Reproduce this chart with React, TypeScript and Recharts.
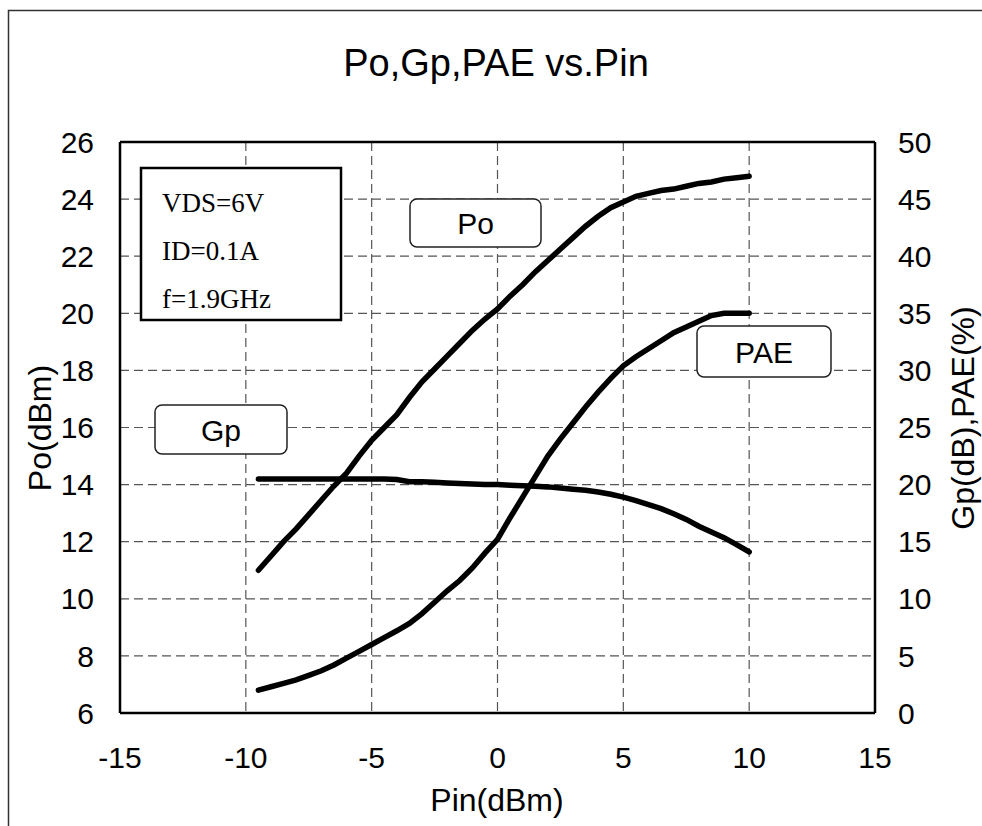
import {
  CartesianGrid,
  Line,
  LineChart,
  ReferenceLine,
  XAxis,
  YAxis,
} from "recharts";

const pin = [
  -9.5, -9, -8.5, -8, -7.5, -7, -6.5, -6, -5.5, -5, -4.5, -4, -3.5, -3, -2.5,
  -2, -1.5, -1, -0.5, 0, 0.5, 1, 1.5, 2, 2.5, 3, 3.5, 4, 4.5, 5, 5.5, 6, 6.5,
  7, 7.5, 8, 8.5, 9, 9.5, 10,
];
const po = [
  11.0, 11.5, 12.0, 12.45, 12.95, 13.45, 13.95, 14.4, 15.0, 15.55, 16.0, 16.45,
  17.05, 17.6, 18.05, 18.5, 18.95, 19.4, 19.8, 20.15, 20.6, 21.0, 21.45, 21.85,
  22.25, 22.65, 23.05, 23.4, 23.7, 23.9, 24.1, 24.2, 24.3, 24.35, 24.45, 24.55,
  24.6, 24.7, 24.75, 24.8,
];
const gp = [
  20.5, 20.5, 20.5, 20.5, 20.5, 20.5, 20.5, 20.5, 20.5, 20.5, 20.5, 20.45,
  20.25, 20.25, 20.2, 20.15, 20.1, 20.05, 20.0, 20.0, 19.95, 19.9, 19.85, 19.8,
  19.7, 19.6, 19.5, 19.35, 19.15, 18.9, 18.6, 18.25, 17.9, 17.45, 16.95, 16.35,
  15.85, 15.35, 14.75, 14.1,
];
const pae = [
  2.0, 2.3, 2.6, 2.9, 3.3, 3.7, 4.2, 4.8, 5.4, 6.0, 6.6, 7.2, 7.85, 8.7, 9.7,
  10.7, 11.6, 12.7, 14.0, 15.2, 17.1, 18.9, 20.7, 22.5, 24.0, 25.4, 26.8, 28.1,
  29.3, 30.4, 31.2, 31.9, 32.6, 33.3, 33.8, 34.3, 34.8, 35.0, 35.0, 35.0,
];
const xTicks = [-15, -10, -5, 0, 5, 10, 15];
const poTicks = [6, 8, 10, 12, 14, 16, 18, 20, 22, 24, 26];
const rightTicks = [0, 5, 10, 15, 20, 25, 30, 35, 40, 45, 50];
const conditions = ["VDS=6V", "ID=0.1A", "f=1.9GHz"];

const data = pin.map((p, i) => ({ pin: p, po: po[i], gp: gp[i], pae: pae[i] }));

const sans = "'Liberation Sans', Arial, sans-serif";
const serif = "'Liberation Serif', 'Times New Roman', serif";
const tickStyle = { fontSize: 30, fill: "#000", fontFamily: sans };

const Tag = ({ x, y, w, h, text }: { x: number; y: number; w: number; h: number; text: string }) => (
  <g>
    <rect x={x} y={y} width={w} height={h} rx={7} fill="#fff" stroke="#222" strokeWidth={1.5} />
    <text
      x={x + w / 2}
      y={y + h / 2 + 11}
      textAnchor="middle"
      fontSize={30}
      fontFamily={sans}
      fill="#000"
    >
      {text}
    </text>
  </g>
);

export default function App() {
  return (
    <div style={{ position: "absolute", left: 0, top: 0, width: 982, height: 826, background: "#fff", overflow: "hidden" }}>
      <LineChart
        width={982}
        height={826}
        data={data}
        margin={{ top: 142, right: 0, bottom: 0, left: 0 }}
      >
        <CartesianGrid yAxisId="l" stroke="#555" strokeDasharray="9 5" strokeWidth={1.2} />
        <XAxis
          dataKey="pin"
          type="number"
          domain={[-15, 15]}
          ticks={xTicks}
          height={113}
          tickSize={0}
          tickMargin={34}
          tick={tickStyle}
          axisLine={{ stroke: "#000", strokeWidth: 2.5 }}
          tickLine={false}
        />
        <YAxis
          yAxisId="l"
          domain={[6, 26]}
          ticks={poTicks}
          width={120}
          tickSize={0}
          tickMargin={26}
          tick={tickStyle}
          axisLine={{ stroke: "#000", strokeWidth: 2.5 }}
          tickLine={false}
        />
        <YAxis
          yAxisId="r"
          orientation="right"
          domain={[0, 50]}
          ticks={rightTicks}
          width={107}
          tickSize={0}
          tickMargin={23}
          tick={{ ...tickStyle, textAnchor: "start" }}
          axisLine={{ stroke: "#000", strokeWidth: 2.5 }}
          tickLine={false}
        />
        <ReferenceLine yAxisId="l" y={26} stroke="#000" strokeWidth={2.5} />
        <Line yAxisId="l" dataKey="po" stroke="#000" strokeWidth={5.5} strokeLinecap="round" dot={false} isAnimationActive={false} />
        <Line yAxisId="r" dataKey="gp" stroke="#000" strokeWidth={5.5} strokeLinecap="round" dot={false} isAnimationActive={false} />
        <Line yAxisId="r" dataKey="pae" stroke="#000" strokeWidth={5.5} strokeLinecap="round" dot={false} isAnimationActive={false} />
      </LineChart>
      <svg
        width={982}
        height={826}
        style={{ position: "absolute", left: 0, top: 0, pointerEvents: "none" }}
      >
        <path d="M8.5,826 L8.5,10.5 L982,10.5" fill="none" stroke="#333" strokeWidth={1.5} />
        <text x={496} y={76} textAnchor="middle" fontSize={38} fontFamily={sans} fill="#000">
          Po,Gp,PAE vs.Pin
        </text>
        <text transform="translate(51,428) rotate(-90)" textAnchor="middle" fontSize={32} fontFamily={sans} fill="#000">
          Po(dBm)
        </text>
        <text transform="translate(974,418) rotate(-90)" textAnchor="middle" fontSize={32} fontFamily={sans} fill="#000">
          Gp(dB),PAE(%)
        </text>
        <text x={497} y={811} textAnchor="middle" fontSize={32} fontFamily={sans} fill="#000">
          Pin(dBm)
        </text>
        <rect x={141} y={168} width={200} height={152} fill="#fff" stroke="#000" strokeWidth={2.5} />
        {conditions.map((c, i) => (
          <text key={c} x={162} y={212 + i * 48} fontSize={27} fontFamily={serif} fill="#000">
            {c}
          </text>
        ))}
        <Tag x={410} y={199} w={131} h={48} text="Po" />
        <Tag x={155} y={405} w={132} h={49} text="Gp" />
        <Tag x={697} y={326} w={134} h={51} text="PAE" />
      </svg>
    </div>
  );
}
